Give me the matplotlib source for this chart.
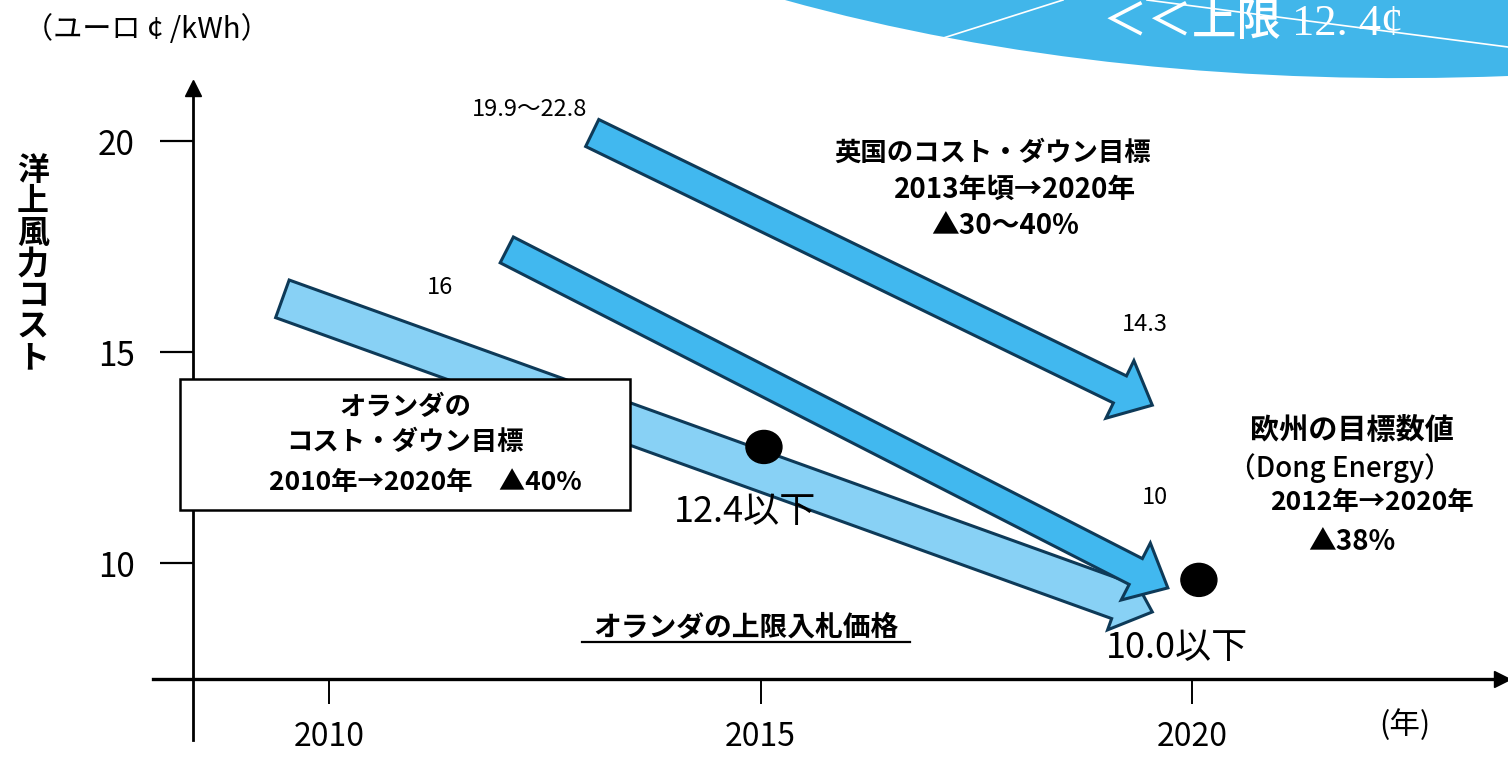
import matplotlib
matplotlib.use("Agg")
import matplotlib.pyplot as plt
from matplotlib.patches import FancyArrowPatch, ArrowStyle, Rectangle, Ellipse, PathPatch
from matplotlib.path import Path
from matplotlib.lines import Line2D

plt.rcParams["font.family"] = ["Noto Sans CJK JP", "DejaVu Sans"]

W, H = 1508, 760
years = [2010, 2015, 2020]
cost_ticks = [10, 15, 20]

# cost-down arrows: (year, cost) at tail -> (year, cost) at tip
nl_arrow = [(2009.46, 16.26), (2019.54, 8.84)]
dong_arrow = [(2012.06, 17.42), (2019.72, 9.41)]
uk_arrow = [(2013.05, 20.19), (2019.54, 13.74)]
# Dutch cap price points
dot_years = [2015.04, 2020.08]
dot_costs = [12.75, 9.60]

LIGHT = "#88d1f5"; DARK = "#41b8ef"; EDGE = "#0e3a58"; BANNER = "#41b6ea"


def px(x, y):
    return x / W, 1 - y / H


fig = plt.figure(figsize=(W / 100, H / 100), dpi=100)
ax = fig.add_axes([0, 0, 1, 1])
# pixel -> data: 2010 at x=329, 86.3 px/yr ; 20 at y=141, 42.2 px/unit
ax.set_xlim(2010 - 329 / 86.3, 2010 + (W - 329) / 86.3)
ax.set_ylim(20 - (H - 141) / 42.2, 20 + 141 / 42.2)
ax.patch.set_visible(False)

yaxis_x = 2010 + (193 - 329) / 86.3
xaxis_y = 20 - (679 - 141) / 42.2
for s in ("top", "right"):
    ax.spines[s].set_visible(False)
ax.spines["left"].set_position(("data", yaxis_x))
ax.spines["bottom"].set_position(("data", xaxis_y))
ax.spines["left"].set_bounds(20 - (740 - 141) / 42.2, 20 + (141 - 92) / 42.2)
ax.spines["bottom"].set_bounds(2010 - (329 - 153) / 86.3, 2010 + (1500 - 329) / 86.3)
ax.spines["left"].set_linewidth(2.0); ax.spines["bottom"].set_linewidth(2.4)
ax.plot([yaxis_x], [20 + (141 - 88) / 42.2], marker="^", ms=11, color="k", clip_on=False)
ax.plot([2010 + (1502 - 329) / 86.3], [xaxis_y], marker=">", ms=11, color="k", clip_on=False)

ax.set_xticks(years); ax.set_yticks(cost_ticks)
ax.tick_params(axis="y", direction="out", length=24, width=1.6, pad=18, labelsize=24)
ax.tick_params(axis="x", direction="out", length=18, width=1.4, pad=12, labelsize=23)


def fat_arrow(p0, p1, fc, tail_px, head_w_px=64, head_l_px=36, z=2):
    k = 72 / 100
    st = ArrowStyle.Simple(head_length=head_l_px * k, head_width=head_w_px * k, tail_width=tail_px * k)
    ax.add_patch(FancyArrowPatch(p0, p1, arrowstyle=st, mutation_scale=1, fc=fc, ec=EDGE, lw=2.2,
                                 shrinkA=0, shrinkB=0, joinstyle="miter", zorder=z))


fat_arrow(*nl_arrow, LIGHT, 40, z=2)
fat_arrow(*dong_arrow, DARK, 29, z=3)
fat_arrow(*uk_arrow, DARK, 30, z=3)
for x, y in zip(dot_years, dot_costs):
    ax.add_patch(Ellipse((x, y), 36 / 86.3, 33 / 42.2, color="k", zorder=4))

# banner top right
verts = [px(785, 0), px(1000, 60), px(1250, 86), px(1508, 76), px(1508, 0), px(785, 0)]
codes = [Path.MOVETO, Path.CURVE4, Path.CURVE4, Path.CURVE4, Path.LINETO, Path.CLOSEPOLY]
fig.add_artist(PathPatch(Path(verts, codes), fc=BANNER, ec="none", transform=fig.transFigure))
for (a, b), (c, d) in [((937, 40), (1063, 0)), ((1147, 0), (1508, 47))]:
    fig.add_artist(Line2D([a / W, c / W], [1 - b / H, 1 - d / H], color="white", lw=1.2))
fig.text(*px(1253, 24), "＜＜上限 12. 4¢", color="white", fontsize=32, ha="center", va="center",
         family=["Liberation Serif", "Noto Sans CJK JP"], fontweight="medium")

# Dutch target box
fig.add_artist(Rectangle(px(180, 510), 450 / W, 131 / H, fc="white", ec="k", lw=1.8,
                         transform=fig.transFigure))

T = lambda x, y, s, **kw: fig.text(*px(x, y), s, ha="center", va="center", **kw)
T(147, 30, "（ユーロ ¢ /kWh）", fontsize=21)
T(33, 265, "\n".join("洋上風力コスト"), fontsize=23, fontweight="bold", linespacing=0.97)
T(1405, 725, "(年)", fontsize=22)

T(530, 110, "19.9～22.8", fontsize=17)
T(440, 287, "16", fontsize=17)
T(1145, 325, "14.3", fontsize=17)
T(1155, 497, "10", fontsize=17)

T(993, 153, "英国のコスト・ダウン目標", fontsize=19, fontweight="bold")
T(1015, 190, "2013年頃→2020年", fontsize=20, fontweight="bold")
T(1005, 226, "▲30～40%", fontsize=20, fontweight="bold")

T(405, 408, "オランダの", fontsize=19, fontweight="bold")
T(405, 443, "コスト・ダウン目標", fontsize=19, fontweight="bold")
T(425, 483, "2010年→2020年　▲40%", fontsize=19, fontweight="bold")

T(1352, 430, "欧州の目標数値", fontsize=21, fontweight="bold")
T(1340, 468, "（Dong Energy）", fontsize=20, fontweight="medium")
T(1372, 503, "2012年→2020年", fontsize=19, fontweight="bold")
T(1352, 542, "▲38%", fontsize=20, fontweight="bold")

T(745, 512, "12.4以下", fontsize=26)
T(1177, 648, "10.0以下", fontsize=26)
T(746, 627, "オランダの上限入札価格", fontsize=20, fontweight="bold")
fig.add_artist(Line2D([582 / W, 910 / W], [1 - 642 / H] * 2, color="k", lw=1.6))

fig.savefig("out.png", dpi=100)
